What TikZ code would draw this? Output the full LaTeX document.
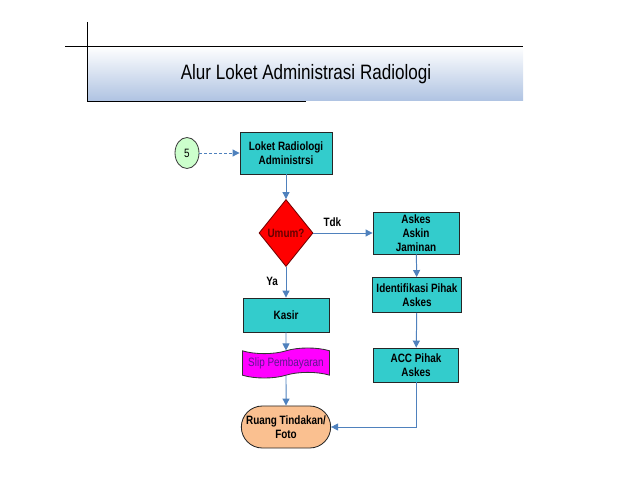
\documentclass[tikz,border=0pt]{standalone}
\usepackage{fontspec}
\newfontfamily\narrowsf[FakeStretch=0.82]{Liberation Sans}
\usetikzlibrary{shapes.geometric, shapes.symbols, shapes.misc, arrows.meta}
\definecolor{boxteal}{HTML}{33CCCC}
\definecolor{arrowblue}{HTML}{4F81BD}
\definecolor{titleblue}{HTML}{AFC3E2}
\definecolor{slipmagenta}{HTML}{FF00FF}
\definecolor{sliptext}{HTML}{5E1790}
\definecolor{ruangpeach}{HTML}{FAC090}
\definecolor{konekgreen}{HTML}{CCFFCC}
\tikzset{
  proses/.style={rectangle, draw=black!85, fill=boxteal, line width=0.6pt,
    align=center, inner sep=1pt, font=\narrowsf\bfseries\fontsize{8.6}{10}\selectfont},
  keputusan/.style={diamond, draw=red!45!black, fill=red, line width=0.6pt, inner sep=0pt,
    text=red!40!black, font=\narrowsf\bfseries\fontsize{8.6}{10}\selectfont},
  konektor/.style={ellipse, draw=black!75, fill=konekgreen, line width=0.6pt,
    minimum width=0.6cm, minimum height=0.775cm, inner sep=0pt,
    font=\narrowsf\fontsize{8.6}{10}\selectfont},
  dokumen/.style={tape, draw=black!80, fill=slipmagenta, line width=0.6pt,
    tape bend top=in and out, tape bend bottom=in and out, tape bend height=4pt,
    inner sep=1pt, text=sliptext, font=\narrowsf\fontsize{8.6}{10}\selectfont},
  terminal/.style={rounded rectangle, draw=black!85, fill=ruangpeach, line width=0.6pt,
    align=center, inner sep=1pt, font=\narrowsf\bfseries\fontsize{8.6}{10}\selectfont},
  alur/.style={draw=arrowblue, line width=0.7pt, ->},
  ket/.style={font=\narrowsf\bfseries\fontsize{8.6}{10}\selectfont, text=black}
}
\begin{document}
\begin{tikzpicture}[x=0.025cm, y=-0.025cm, >={Triangle[length=5pt, width=5pt]}]
    \useasboundingbox (0,0) rectangle (638,479);
    % judul
    \shade[top color=white, bottom color=titleblue] (87,46) rectangle (523,101);
    \draw[line width=0.6pt] (65,46) -- (523,46);
    \draw[line width=0.6pt] (87,22) -- (87,101) -- (306,101);
    \node[font=\narrowsf\fontsize{14.8}{17}\selectfont] (judul) at (306,74) {Alur Loket Administrasi Radiologi};

    % bagan alur
    \draw (187,153) node[konektor](c5){5}
       (286,153) node[proses, minimum width=2.3cm, minimum height=1.05cm](loket){Loket Radiologi\\Administrsi}
       (286,233) node[keputusan, minimum width=1.35cm, minimum height=1.675cm](umum){Umum?}
       (416,233) node[proses, minimum width=2.15cm, minimum height=1.05cm](askes){Askes\\Askin\\Jaminan}
       (417,295) node[proses, minimum width=2.225cm, minimum height=0.875cm](ident){Identifikasi Pihak\\Askes}
       (416,365) node[proses, minimum width=2.125cm, minimum height=0.85cm](acc){ACC Pihak\\Askes}
       (286,315) node[proses, minimum width=2.15cm, minimum height=0.85cm](kasir){Kasir}
       (286,363) node[dokumen, minimum width=2.175cm, minimum height=0.75cm](slip){Slip Pembayaran}
       (286,427) node[terminal, minimum width=2.2cm, minimum height=1.05cm](ruang){Ruang Tindakan/\\Foto};

    \draw[alur, dash pattern=on 2pt off 1.5pt] (c5) -- (loket);
    \draw[alur] (loket) -- (umum);
    \draw[alur] (umum) -- node[ket, above=1pt, pos=0.32]{Tdk} (askes);
    \draw[alur] (umum) -- node[ket, left=2pt, pos=0.48]{Ya} (kasir);
    \draw[alur] (kasir) -- (slip);
    \draw[alur] (slip) -- (ruang);
    \draw[alur] (askes) -- (ident);
    \draw[alur] (ident) -- (acc);
    \draw[alur] (acc) |- (ruang);
\end{tikzpicture}
\end{document}
